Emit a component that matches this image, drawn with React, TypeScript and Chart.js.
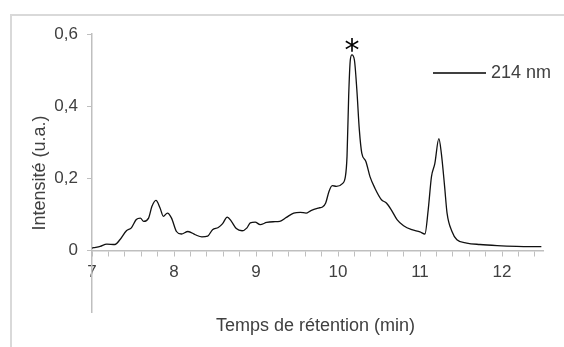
import React, { useEffect, useRef } from 'react';
import { Chart, registerables } from 'chart.js';

Chart.register(...registerables);

// Retention time (min)
const retentionTime = [
  7.0, 7.02, 7.1, 7.18, 7.28, 7.34, 7.42, 7.48, 7.54, 7.59, 7.63, 7.69, 7.73, 7.78, 7.83, 7.87, 7.92, 7.97,
  8.03, 8.09, 8.17, 8.26, 8.34, 8.41, 8.47, 8.54, 8.59, 8.65, 8.7, 8.76, 8.83, 8.89, 8.93, 8.99,
  9.05, 9.13, 9.21, 9.29, 9.37, 9.46, 9.54, 9.61, 9.67, 9.76, 9.81, 9.85, 9.89, 9.93, 9.98,
  10.05, 10.09, 10.11, 10.13, 10.15, 10.17, 10.2, 10.23, 10.26, 10.29, 10.34, 10.39, 10.45, 10.53, 10.59,
  10.65, 10.72, 10.8, 10.9, 11.0, 11.06, 11.1, 11.14, 11.18, 11.23, 11.26, 11.3, 11.33, 11.39, 11.45,
  11.57, 11.73, 11.94, 12.18, 12.48,
];
// Intensity (u.a.) at 214 nm
const intensity214 = [
  0.007, 0.008, 0.012, 0.018, 0.017, 0.03, 0.055, 0.063, 0.086, 0.09, 0.081, 0.09, 0.122, 0.139, 0.118, 0.095, 0.104, 0.09,
  0.053, 0.046, 0.053, 0.044, 0.038, 0.04, 0.058, 0.064, 0.074, 0.093, 0.081, 0.061, 0.055, 0.063, 0.077, 0.079,
  0.072, 0.078, 0.08, 0.081, 0.092, 0.104, 0.106, 0.104, 0.111, 0.118, 0.121, 0.132, 0.164, 0.18, 0.178,
  0.185, 0.205, 0.261, 0.427, 0.528, 0.542, 0.528, 0.445, 0.335, 0.27, 0.247, 0.205, 0.173, 0.141, 0.132,
  0.113, 0.086, 0.069, 0.058, 0.052, 0.046, 0.113, 0.205, 0.24, 0.31, 0.27, 0.178, 0.104, 0.053, 0.03,
  0.021, 0.017, 0.014, 0.012, 0.011,
];

const seriesLabel = '214 nm';
const xTitle = 'Temps de rétention (min)';
const yTitle = 'Intensité (u.a.)';
const xMin = 7;
const xMax = 12.5;
const xMinorStep = 0.2;
const xTickLabels = ['7', '8', '9', '10', '11', '12'];
const yTickValues = [0, 0.2, 0.4, 0.6];
const yTickLabels = ['0', '0,2', '0,4', '0,6'];
const peakMarker = '*';
const peakTime = 10.17;
const peakValue = 0.542;

const FONT = '"Liberation Sans", Arial, sans-serif';
const TEXT = '#404040';
const AXIS = '#bfbfbf';

export default function App() {
  const ref = useRef<HTMLCanvasElement | null>(null);

  useEffect(() => {
    if (!ref.current) return;
    const points = retentionTime.map((t, i) => ({ x: t, y: intensity214[i] }));

    const overlay = {
      id: 'overlay',
      afterDraw(chart: any) {
        const ctx = chart.ctx as CanvasRenderingContext2D;
        const { chartArea, scales } = chart;
        ctx.save();
        ctx.fillStyle = TEXT;
        // x title
        ctx.font = `18px ${FONT}`;
        ctx.textAlign = 'center';
        ctx.textBaseline = 'middle';
        ctx.fillText(xTitle, (chartArea.left + chartArea.right) / 2 - 2, 326);
        // y title
        ctx.save();
        ctx.translate(40, (chartArea.top + chartArea.bottom) / 2);
        ctx.rotate(-Math.PI / 2);
        ctx.fillText(yTitle, 0, 0);
        ctx.restore();
        // legend
        ctx.strokeStyle = '#000';
        ctx.lineWidth = 1.3;
        ctx.beginPath();
        ctx.moveTo(433, 73);
        ctx.lineTo(486, 73);
        ctx.stroke();
        ctx.font = `18px ${FONT}`;
        ctx.textAlign = 'left';
        ctx.fillText(seriesLabel, 491, 73);
        // peak marker
        ctx.fillStyle = '#000';
        ctx.font = `30px "DejaVu Sans", sans-serif`;
        ctx.textAlign = 'center';
        ctx.textBaseline = 'alphabetic';
        const m = ctx.measureText(peakMarker);
        const cx = scales.x.getPixelForValue(peakTime);
        const cy = scales.y.getPixelForValue(peakValue) - 10;
        const base = cy + (m.actualBoundingBoxAscent - m.actualBoundingBoxDescent) / 2;
        ctx.fillText(peakMarker, cx, base);
        ctx.restore();
      },
    };

    const chart = new Chart(ref.current, {
      type: 'line',
      data: {
        datasets: [
          {
            label: seriesLabel,
            data: points,
            borderColor: '#111',
            borderWidth: 1.3,
            pointRadius: 0,
            fill: false,
            cubicInterpolationMode: 'monotone',
          },
        ],
      },
      options: {
        animation: false,
        responsive: false,
        maintainAspectRatio: false,
        layout: { padding: { left: 0, top: 34, right: 21, bottom: 35 } },
        plugins: { legend: { display: false }, tooltip: { enabled: false } },
        scales: {
          x: {
            type: 'linear',
            min: xMin,
            max: xMax,
            position: { y: 0 } as any,
            afterBuildTicks: (s: any) => {
              const ticks = [];
              for (let v = xMin; v <= xMax - 0.05; v += xMinorStep) ticks.push({ value: Math.round(v * 10) / 10 });
              s.ticks = ticks;
            },
            grid: { display: true, drawOnChartArea: false, drawTicks: true, tickLength: 5, color: AXIS, lineWidth: 1 },
            border: { display: true, color: AXIS, width: 1.5 },
            ticks: {
              autoSkip: false,
              maxRotation: 0,
              padding: 6,
              color: TEXT,
              font: { family: FONT, size: 17 },
              callback: (v: any) => {
                const n = Number(v);
                if (Math.abs(n - Math.round(n)) < 1e-6) {
                  const idx = Math.round(n) - xMin;
                  return xTickLabels[idx] ?? '';
                }
                return '';
              },
            },
          },
          y: {
            type: 'linear',
            min: -0.17,
            max: 0.6,
            position: 'left',
            afterFit: (s: any) => {
              s.width = 92;
            },
            afterBuildTicks: (s: any) => {
              s.ticks = yTickValues.map((v) => ({ value: v }));
            },
            grid: { display: true, drawOnChartArea: false, drawTicks: true, tickLength: 5, color: AXIS, lineWidth: 1 },
            border: { display: true, color: AXIS, width: 1.5 },
            ticks: {
              padding: 9,
              color: TEXT,
              font: { family: FONT, size: 17 },
              callback: (v: any) => {
                const idx = yTickValues.findIndex((t) => Math.abs(t - Number(v)) < 1e-6);
                return idx >= 0 ? yTickLabels[idx] : '';
              },
            },
          },
        },
      },
      plugins: [overlay],
    });
    return () => chart.destroy();
  }, []);

  return (
    <div style={{ position: 'fixed', left: 0, top: 0, width: 564, height: 347, overflow: 'hidden', background: '#fff' }}>
      <div
        style={{
          position: 'absolute',
          left: 10,
          top: 14,
          width: 700,
          height: 500,
          border: '2px solid #d9d9d9',
          boxSizing: 'border-box',
        }}
      />
      <canvas ref={ref} width={564} height={347} style={{ position: 'absolute', left: 0, top: 0, width: 564, height: 347 }} />
    </div>
  );
}
